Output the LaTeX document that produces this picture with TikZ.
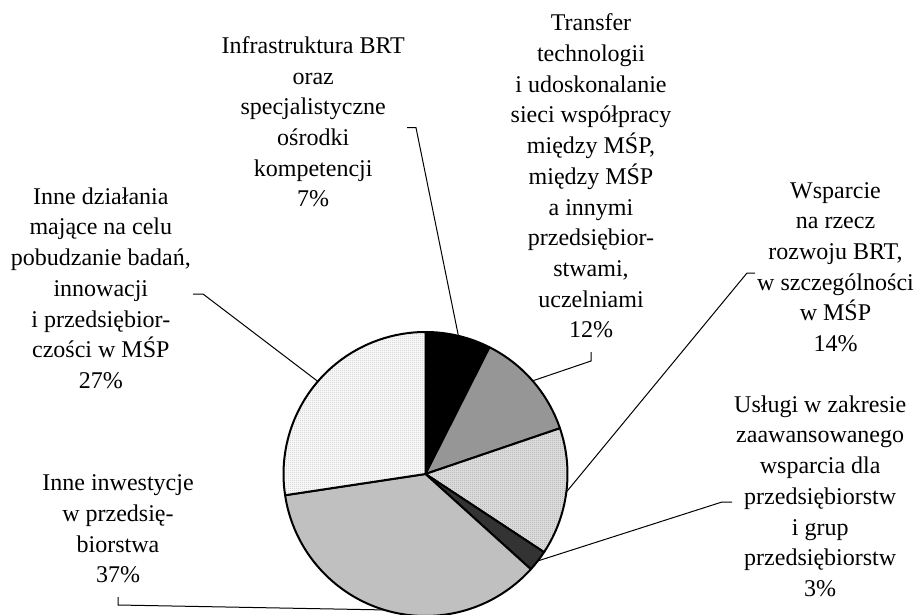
\documentclass[tikz,border=0pt]{standalone}
\usepackage{fontspec}
\setmainfont{Liberation Serif}
\usetikzlibrary{patterns}
\pgfdeclarepatternformonly{finechk}{\pgfpointorigin}{\pgfqpoint{2pt}{2pt}}{\pgfqpoint{2pt}{2pt}}{%
  \pgfpathrectangle{\pgfpointorigin}{\pgfqpoint{1pt}{1pt}}%
  \pgfpathrectangle{\pgfqpoint{1pt}{1pt}}{\pgfqpoint{1pt}{1pt}}%
  \pgfusepath{fill}}
\definecolor{cblack}{HTML}{000000}
\definecolor{cgray}{HTML}{969696}
\definecolor{cdotbg}{HTML}{E4E4E4}
\definecolor{cdotfg}{HTML}{A4A4A4}
\definecolor{cdark}{HTML}{333333}
\definecolor{clight}{HTML}{C0C0C0}
\definecolor{cpalebg}{HTML}{FFFFFF}
\definecolor{cpalefg}{HTML}{C4C4C4}
\tikzset{
  lbl/.style={align=center, inner sep=2pt, font={\fontsize{24}{30.7}\selectfont},
    execute at begin node={\rule{0pt}{27pt}},
    execute at end node={\rule[-12pt]{0pt}{0pt}}},
  slice/.style={draw=black, line width=2pt, line join=round},
  leader/.style={draw=black, line width=1pt}
}
\begin{document}
\begin{tikzpicture}[x=1pt,y=-1pt]
\useasboundingbox (0,0) rectangle (918,615);
\begin{scope}[shift={(425.5,474)}, yscale=-1]
  \def\R{142}
  \filldraw[slice, fill=cblack] (0,0) -- (90:\R) arc[start angle=90, end angle=63.2, radius=\R] -- cycle;
  \filldraw[slice, fill=cgray] (0,0) -- (63.2:\R) arc[start angle=63.2, end angle=18.8, radius=\R] -- cycle;
  \fill[cdotbg] (0,0) -- (18.8:\R) arc[start angle=18.8, end angle=-33.4, radius=\R] -- cycle;
  \fill[pattern=finechk, pattern color=cdotfg] (0,0) -- (18.8:\R) arc[start angle=18.8, end angle=-33.4, radius=\R] -- cycle;
  \draw[slice] (0,0) -- (18.8:\R) arc[start angle=18.8, end angle=-33.4, radius=\R] -- cycle;
  \filldraw[slice, fill=cdark] (0,0) -- (-33.4:\R) arc[start angle=-33.4, end angle=-42.1, radius=\R] -- cycle;
  \filldraw[slice, fill=clight] (0,0) -- (-42.1:\R) arc[start angle=-42.1, end angle=-171.4, radius=\R] -- cycle;
  \fill[cpalebg] (0,0) -- (-171.4:\R) arc[start angle=-171.4, end angle=-270, radius=\R] -- cycle;
  \fill[pattern=finechk, pattern color=cpalefg] (0,0) -- (-171.4:\R) arc[start angle=-171.4, end angle=-270, radius=\R] -- cycle;
  \draw[slice] (0,0) -- (-171.4:\R) arc[start angle=-171.4, end angle=-270, radius=\R] -- cycle;
  \coordinate (p7) at (76.6:\R);
  \coordinate (p12) at (41:\R);
  \coordinate (p14) at (-7.3:\R);
  \coordinate (p3) at (-37.75:\R);
  \coordinate (p37) at (-106.8:\R);
  \coordinate (p27) at (139.3:\R);
\end{scope}

\node[lbl, anchor=east] (I) at (407,127.7) {Infrastruktura BRT\\oraz\\specjalistyczne\\ośrodki\\kompetencji\\7\%};
\node[lbl, anchor=south] (T) at (591,352) {Transfer\\technologii\\i udoskonalanie\\sieci współpracy\\między MŚP,\\między MŚP\\a innymi\\przedsiębior-\\stwami,\\uczelniami\\12\%};
\node[lbl, anchor=west] (W) at (755,273) {Wsparcie\\na rzecz\\rozwoju BRT,\\w szczególności\\w MŚP\\14\%};
\node[lbl, anchor=west] (U) at (732,502) {Usługi w zakresie\\zaawansowanego\\wsparcia dla\\przedsiębiorstw\\i grup\\przedsiębiorstw\\3\%};
\node[lbl, anchor=east] (D) at (193,294) {Inne działania\\mające na celu\\pobudzanie badań,\\innowacji\\i przedsiębior-\\czości w MŚP\\27\%};
\node[lbl, anchor=south] (N) at (118,597) {Inne inwestycje\\w przedsię-\\biorstwa\\37\%};

\draw[leader] (I.east) -- ++(9,0) -- (p7);
\draw[leader] (T.south) -- ++(0,9) -- (p12);
\draw[leader] (W.west) -- ++(-8,0) -- (p14);
\draw[leader] (U.west) -- ++(-10,0) -- (p3);
\draw[leader] (D.east) -- ++(10,0) -- (p27);
\draw[leader] (N.south) -- ++(0,8) -- (p37);
\end{tikzpicture}
\end{document}
